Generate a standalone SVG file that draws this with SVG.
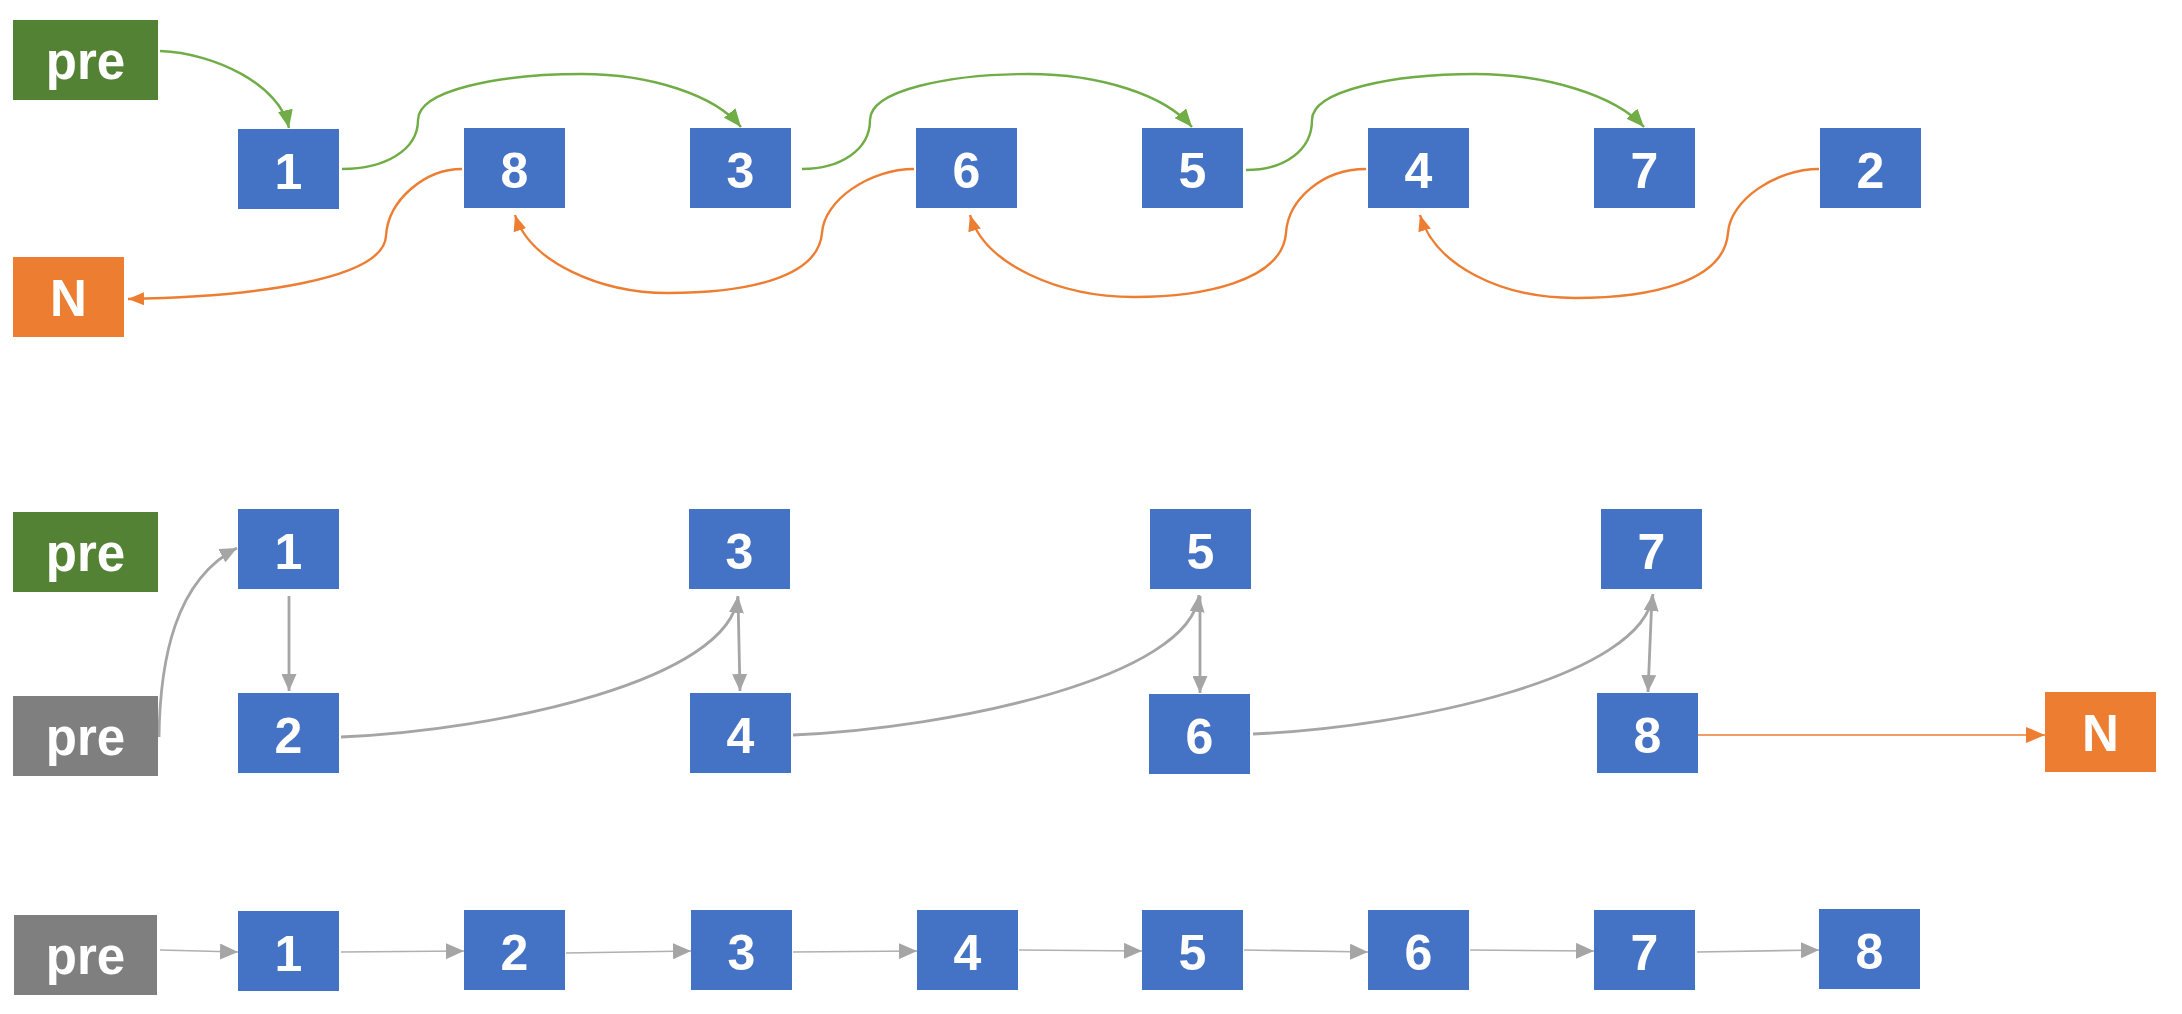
<svg xmlns="http://www.w3.org/2000/svg" width="2182" height="1014" viewBox="0 0 2182 1014">
  <style>
    .blue { fill: #4472C4; }
    .green { fill: #548235; }
    .orange { fill: #ED7D31; }
    .gray { fill: #7F7F7F; }
    text { font-family: "Liberation Sans", Arial, sans-serif; font-weight: bold; fill: #FFFFFF; text-anchor: middle; }
    .num { font-size: 50px; }
    .lbl { font-size: 51px; }
    .c-green { fill: none; stroke: #70AD47; stroke-width: 2.4; }
    .c-orange { fill: none; stroke: #ED7D31; stroke-width: 2.4; }
    .c-gray { fill: none; stroke: #A5A5A5; stroke-width: 2.8; }
    .c-thin { fill: none; stroke: #B0B0B0; stroke-width: 1.6; }
    .c-thin-orange { fill: none; stroke: #ED7D31; stroke-width: 1.6; }
  </style>
  <defs>
    <marker id="ah-green" markerUnits="userSpaceOnUse" markerWidth="18" markerHeight="15" refX="18" refY="7.5" orient="auto">
      <path d="M0,0 L18,7.5 L0,15 z" fill="#70AD47"/>
    </marker>
    <marker id="ah-orange" markerUnits="userSpaceOnUse" markerWidth="16" markerHeight="13" refX="16" refY="6.5" orient="auto">
      <path d="M0,0 L16,6.5 L0,13 z" fill="#ED7D31"/>
    </marker>
    <marker id="ah-orange-l" markerUnits="userSpaceOnUse" markerWidth="19" markerHeight="16" refX="19" refY="8" orient="auto">
      <path d="M0,0 L19,8 L0,16 z" fill="#ED7D31"/>
    </marker>
    <marker id="ah-gray" markerUnits="userSpaceOnUse" markerWidth="17" markerHeight="15" refX="17" refY="7.5" orient="auto">
      <path d="M0,0 L17,7.5 L0,15 z" fill="#A5A5A5"/>
    </marker>
    <marker id="ah-gray-l" markerUnits="userSpaceOnUse" markerWidth="18" markerHeight="16" refX="18" refY="8" orient="auto">
      <path d="M0,0 L18,8 L0,16 z" fill="#A5A5A5"/>
    </marker>
  </defs>

  <!-- connectors -->
  <g id="connectors">
    <!-- row 1: odd chain (green) -->
    <path class="c-green" marker-end="url(#ah-green)" d="M160,51 C215,53 280,85 289,128"/>
    <path class="c-green" marker-end="url(#ah-green)" d="M342,169 C385,169 418,150 418,120 C418,90 500,74 582,74 C650,74 715,95 741,127"/>
    <path class="c-green" marker-end="url(#ah-green)" d="M802,169 C840,169 870,150 870,120 C870,90 950,74 1029,74 C1100,74 1165,95 1192,127"/>
    <path class="c-green" marker-end="url(#ah-green)" d="M1246,170 C1285,170 1312,150 1312,120 C1312,90 1395,74 1475,74 C1545,74 1615,95 1644,127"/>
    <!-- row 1: even chain (orange) -->
    <path class="c-orange" marker-end="url(#ah-orange)" d="M462,169 C425,169 388,200 386,236 C384,280 250,297 128,299"/>
    <path class="c-orange" marker-end="url(#ah-orange)" d="M914,169 C870,169 824,200 822,233 C818,280 740,293 668,293 C600,293 530,262 515,215"/>
    <path class="c-orange" marker-end="url(#ah-orange)" d="M1366,169 C1322,169 1288,200 1286,233 C1282,282 1200,297 1134,297 C1060,297 985,265 970,215"/>
    <path class="c-orange" marker-end="url(#ah-orange)" d="M1819,169 C1776,169 1730,200 1728,233 C1724,282 1650,298 1575,298 C1500,298 1435,265 1420,215"/>

    <!-- row 2: pairs being relinked -->
    <path class="c-gray" marker-end="url(#ah-gray)" d="M159,737 C160,660 175,580 237,548"/>
    <path class="c-gray" marker-end="url(#ah-gray)" d="M289,596 L289,691"/>
    <path class="c-gray" marker-end="url(#ah-gray)" d="M341,737 C500,730 730,680 738,596"/>
    <path class="c-gray" marker-end="url(#ah-gray)" d="M738,597 L740,691"/>
    <path class="c-gray" marker-end="url(#ah-gray)" d="M793,735 C952,728 1190,678 1199,595"/>
    <path class="c-gray" marker-end="url(#ah-gray)" d="M1200,596 L1200,693"/>
    <path class="c-gray" marker-end="url(#ah-gray)" d="M1253,734 C1412,727 1644,677 1653,594"/>
    <path class="c-gray" marker-end="url(#ah-gray)" d="M1652,596 L1648,692"/>
    <path class="c-thin-orange" marker-end="url(#ah-orange-l)" d="M1698,735 L2045,735"/>

    <!-- row 3: merged list -->
    <path class="c-thin" marker-end="url(#ah-gray-l)" d="M160,950 L238,952"/>
    <path class="c-thin" marker-end="url(#ah-gray-l)" d="M341,952 L464,951"/>
    <path class="c-thin" marker-end="url(#ah-gray-l)" d="M566,953 L691,951"/>
    <path class="c-thin" marker-end="url(#ah-gray-l)" d="M793,952 L917,951"/>
    <path class="c-thin" marker-end="url(#ah-gray-l)" d="M1019,950 L1142,951"/>
    <path class="c-thin" marker-end="url(#ah-gray-l)" d="M1244,950 L1368,952"/>
    <path class="c-thin" marker-end="url(#ah-gray-l)" d="M1470,950 L1594,951"/>
    <path class="c-thin" marker-end="url(#ah-gray-l)" d="M1697,952 L1819,950"/>
  </g>

  <!-- row 1 nodes -->
  <g id="r1-pre"><rect class="green" x="13" y="20" width="145" height="80"/><text class="lbl" x="85.5" y="79">pre</text></g>
  <g id="r1-n1"><rect class="blue" x="238" y="129" width="101" height="80"/><text class="num" x="288.5" y="189">1</text></g>
  <g id="r1-n8"><rect class="blue" x="464" y="128" width="101" height="80"/><text class="num" x="514.5" y="188">8</text></g>
  <g id="r1-n3"><rect class="blue" x="690" y="128" width="101" height="80"/><text class="num" x="740.5" y="188">3</text></g>
  <g id="r1-n6"><rect class="blue" x="916" y="128" width="101" height="80"/><text class="num" x="966.5" y="188">6</text></g>
  <g id="r1-n5"><rect class="blue" x="1142" y="128" width="101" height="80"/><text class="num" x="1192.5" y="188">5</text></g>
  <g id="r1-n4"><rect class="blue" x="1368" y="128" width="101" height="80"/><text class="num" x="1418.5" y="188">4</text></g>
  <g id="r1-n7"><rect class="blue" x="1594" y="128" width="101" height="80"/><text class="num" x="1644.5" y="188">7</text></g>
  <g id="r1-n2"><rect class="blue" x="1820" y="128" width="101" height="80"/><text class="num" x="1870.5" y="188">2</text></g>
  <g id="r1-null"><rect class="orange" x="13" y="257" width="111" height="80"/><text class="lbl" x="68.5" y="316">N</text></g>

  <!-- row 2 nodes -->
  <g id="r2-pre-a"><rect class="green" x="13" y="512" width="145" height="80"/><text class="lbl" x="85.5" y="571">pre</text></g>
  <g id="r2-pre-b"><rect class="gray" x="13" y="696" width="145" height="80"/><text class="lbl" x="85.5" y="755">pre</text></g>
  <g id="r2-n1"><rect class="blue" x="238" y="509" width="101" height="80"/><text class="num" x="288.5" y="569">1</text></g>
  <g id="r2-n2"><rect class="blue" x="238" y="693" width="101" height="80"/><text class="num" x="288.5" y="753">2</text></g>
  <g id="r2-n3"><rect class="blue" x="689" y="509" width="101" height="80"/><text class="num" x="739.5" y="569">3</text></g>
  <g id="r2-n4"><rect class="blue" x="690" y="693" width="101" height="80"/><text class="num" x="740.5" y="753">4</text></g>
  <g id="r2-n5"><rect class="blue" x="1150" y="509" width="101" height="80"/><text class="num" x="1200.5" y="569">5</text></g>
  <g id="r2-n6"><rect class="blue" x="1149" y="694" width="101" height="80"/><text class="num" x="1199.5" y="754">6</text></g>
  <g id="r2-n7"><rect class="blue" x="1601" y="509" width="101" height="80"/><text class="num" x="1651.5" y="569">7</text></g>
  <g id="r2-n8"><rect class="blue" x="1597" y="693" width="101" height="80"/><text class="num" x="1647.5" y="753">8</text></g>
  <g id="r2-null"><rect class="orange" x="2045" y="692" width="111" height="80"/><text class="lbl" x="2100.5" y="751">N</text></g>

  <!-- row 3 nodes -->
  <g id="r3-pre"><rect class="gray" x="14" y="915" width="143" height="80"/><text class="lbl" x="85.5" y="974">pre</text></g>
  <g id="r3-n1"><rect class="blue" x="238" y="911" width="101" height="80"/><text class="num" x="288.5" y="971">1</text></g>
  <g id="r3-n2"><rect class="blue" x="464" y="910" width="101" height="80"/><text class="num" x="514.5" y="970">2</text></g>
  <g id="r3-n3"><rect class="blue" x="691" y="910" width="101" height="80"/><text class="num" x="741.5" y="970">3</text></g>
  <g id="r3-n4"><rect class="blue" x="917" y="910" width="101" height="80"/><text class="num" x="967.5" y="970">4</text></g>
  <g id="r3-n5"><rect class="blue" x="1142" y="910" width="101" height="80"/><text class="num" x="1192.5" y="970">5</text></g>
  <g id="r3-n6"><rect class="blue" x="1368" y="910" width="101" height="80"/><text class="num" x="1418.5" y="970">6</text></g>
  <g id="r3-n7"><rect class="blue" x="1594" y="910" width="101" height="80"/><text class="num" x="1644.5" y="970">7</text></g>
  <g id="r3-n8"><rect class="blue" x="1819" y="909" width="101" height="80"/><text class="num" x="1869.5" y="969">8</text></g>
</svg>
